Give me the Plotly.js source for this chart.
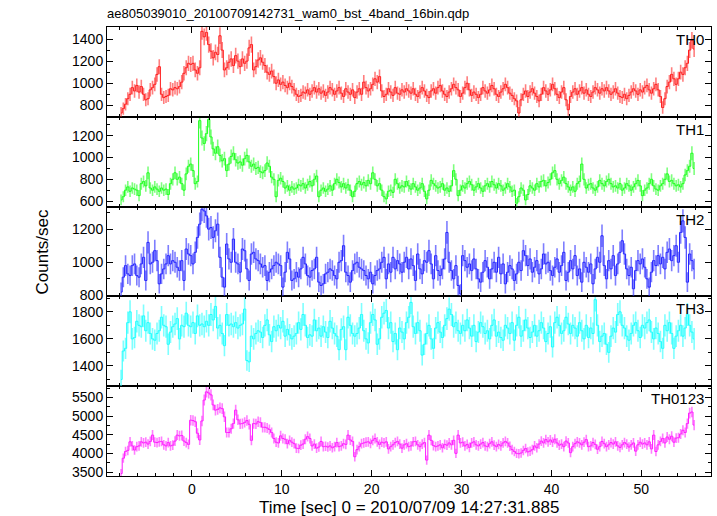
<!DOCTYPE html>
<html><head><meta charset="utf-8">
<script src="https://cdn.plot.ly/plotly-3.0.1.min.js"></script>
<style>html,body{margin:0;padding:0;background:#fff}#chart{width:717px;height:516px}</style>
</head><body><div id="chart"></div>
<script>
// Time bins: 0.25 s bins starting at -8 s (bin centres)
const binStart = -8;
const binWidth = 0.25;

const th0 = [
730,770,810,860,900,960,930,980, 920,970,900,850,860,940,960,990,
1080,1150,900,870,880,890,950,940, 960,950,970,1010,1090,1140,1180,1170,
1180,1120,1090,1140,1470,1420,1460,1350, 1290,1230,1280,1260,1430,1300,1120,1140,
1190,1220,1160,1250,1200,1150,1220,1180, 1200,1320,1350,1120,1150,1210,1230,1190,
1160,1100,1080,1110,1060,1000,1030,990, 1010,980,960,1000,970,940,900,880,
890,920,910,940,900,930,960,920, 950,910,930,890,920,960,940,900,
930,960,910,880,950,920,900,940, 870,920,950,900,1010,960,930,950,
990,1040,1010,1060,930,880,900,950, 920,890,960,910,900,940,920,950,
930,910,950,900,880,920,960,930, 890,870,930,950,910,960,980,930,
900,880,920,950,990,960,940,880, 910,960,1000,940,890,920,900,870,
900,960,930,910,940,980,950,900, 880,920,950,990,960,910,890,860,
840,730,850,900,930,880,920,950, 910,880,840,900,960,930,900,940,
990,950,900,870,920,960,850,760, 880,920,950,900,930,960,910,940,
900,880,920,960,940,910,950,930, 960,930,900,920,950,910,880,870,
900,860,890,920,950,930,900,940, 920,960,980,940,910,950,990,940,
880,780,860,970,1010,1080,1040,990, 1040,1100,1080,1140,1180,1300,1390,1310
];
const th1 = [
610,640,700,730,690,720,710,700, 650,760,780,740,860,720,700,730,
710,690,720,700,710,660,760,800, 860,800,820,760,700,850,920,940,
880,760,780,1340,1180,1130,1220,1350, 1190,1080,1040,1100,1020,970,990,880,
940,1010,1040,980,950,960,930,990, 1020,960,920,940,900,910,870,860,
880,950,920,820,800,640,790,810, 780,720,740,700,730,710,720,750,
740,760,720,750,780,740,800,830, 640,700,720,690,710,740,700,760,
800,770,730,760,720,750,700,640, 690,760,780,750,770,740,790,760,
860,800,740,760,700,640,620,690, 700,680,800,760,720,740,730,780,
740,710,760,730,700,720,760,690, 620,700,790,760,740,720,730,760,
700,720,690,740,880,800,650,700, 740,720,760,780,750,700,730,760,
720,690,740,760,730,780,750,720, 760,740,700,720,760,730,690,700,
580,640,720,700,610,660,740,720, 700,760,730,780,790,740,770,800,
860,880,800,760,790,820,760,730, 700,730,690,760,780,940,800,720,
750,760,720,700,730,790,760,740, 780,800,760,730,740,720,760,700,
720,760,740,700,730,760,790,740, 650,700,720,760,800,740,710,700,
740,760,800,850,780,790,760,740, 750,730,760,840,880,920,1040,900
];
const th2 = [
820,910,980,930,920,980,990,920, 910,990,1030,890,1120,990,1000,1070,
1010,870,930,960,990,1040,990,1010, 1000,970,950,1010,890,1080,1050,1040,
990,1060,1150,1230,1320,1310,1280,1200, 1210,1150,1190,1230,1030,910,850,1110,
1020,1000,1140,1000,990,940,1080,1070, 960,890,1050,1060,1020,1010,990,970,
980,890,940,960,980,1000,990,980, 850,940,1060,1020,890,900,940,910,
960,1030,990,920,910,950,960,1030, 880,860,870,930,940,960,950,920,
900,1000,1010,1100,940,920,880,950, 990,1000,970,960,950,920,900,940,
870,920,950,960,1000,1030,900,990, 940,1030,960,1010,990,940,1000,1030,
960,1020,980,890,1050,960,930,1010, 1000,1070,990,900,1040,950,920,960,
1020,1180,1000,950,900,980,860,810, 1040,1010,970,990,950,1020,960,900,
880,940,1010,970,900,960,1000,940, 1030,930,990,870,940,980,960,890,
930,1000,950,1070,1040,980,1020,940, 970,1010,930,960,1050,990,1000,950,
920,970,1020,940,980,1060,890,940, 1010,960,1040,920,960,880,1000,970,
940,990,870,960,1030,1000,1160,980, 900,1010,960,1040,920,990,1060,1130,
1050,960,920,970,840,950,1010,990, 1020,970,900,850,940,1010,980,1040,
990,1030,960,1060,1080,1010,1040,1100, 1000,1180,1250,1150,880,1050,1010,960
];
const th3 = [
1300,1510,1530,1720,1800,1600,1610,1730, 1700,1690,1770,1660,1720,1640,1600,1590,
1640,1660,1760,1700,1690,1560,1650,1690, 1710,1750,1600,1700,1690,1790,1700,1690,
1720,1640,1770,1700,1710,1690,1730,1700, 1780,1740,1840,1680,1700,1640,1550,1780,
1700,1710,1690,1720,1680,1700,1710,1820, 1440,1430,1620,1600,1640,1660,1650,1610,
1700,1740,1630,1580,1690,1660,1700,1680, 1730,1620,1670,1630,1600,1620,1640,1720,
1670,1780,1700,1610,1630,1620,1740,1660, 1680,1620,1690,1650,1610,1730,1680,1640,
1620,1520,1670,1690,1520,1760,1700,1640, 1620,1640,1680,1780,1660,1600,1570,1720,
1780,1740,1560,1600,1760,1790,1810,1680, 1720,1580,1640,1520,1680,1650,1600,1720,
1760,1870,1690,1640,1720,1660,1480,1560, 1640,1700,1600,1530,1680,1720,1650,1610,
1700,1750,1820,1780,1690,1720,1660,1640, 1700,1660,1740,1680,1620,1700,1580,1650,
1720,1690,1640,1660,1600,1700,1740,1620, 1650,1610,1590,1700,1680,1640,1720,1590,
1700,1760,1620,1660,1740,1680,1610,1650, 1700,1620,1660,1720,1680,1580,1640,1690,
1540,1720,1760,1700,1640,1660,1760,1710, 1640,1700,1680,1620,1720,1660,1600,1700,
1610,1680,1640,1890,1700,1580,1620,1640, 1560,1500,1620,1680,1650,1780,1800,1700,
1680,1620,1590,1640,1700,1720,1660,1610, 1700,1680,1720,1740,1650,1600,1680,1640,
1580,1530,1700,1660,1720,1640,1530,1620, 1660,1700,1620,1680,1780,1700,1650,1600
];
const th0123 = [
3460,3870,4050,4080,4310,4200,4090,4180, 4200,4310,4280,4300,4250,4320,4490,4300,
4290,4310,4320,4230,4200,4290,4200,4220, 4330,4490,4470,4480,4330,4290,4240,4890,
4880,4850,4540,4360,4870,5430,5650,5620, 5570,5300,5160,5180,5220,5200,4980,4560,
4560,4660,4800,5160,4900,4790,4800,4830, 4880,4780,4350,4800,4790,4850,4830,4700,
4700,4680,4640,4560,4400,4300,4280,4470, 4400,4380,4260,4350,4300,4260,4140,4130,
4220,4250,4380,4450,4400,4200,4250,4140, 4170,4320,4180,4190,4170,4200,4150,4180,
4290,4180,4200,4260,4240,4490,4360,4320, 3910,4100,4180,4260,4280,4300,4310,4270,
4350,4400,4310,4240,4300,4280,4310,4120, 4180,4230,4290,4320,4250,4140,4230,4260,
4180,4200,4310,4320,4230,4180,4250,4290, 3820,4490,4350,4210,4180,4200,4230,4150,
4240,4220,4280,4230,4350,4000,4490,4280, 4300,4200,4240,4160,4280,4310,4230,4200,
4250,4290,4200,4180,4260,4310,4220,4180, 4240,4200,4280,4320,4280,4190,4100,4050,
4000,3990,4010,4080,4130,4040,4060,4100, 4200,4150,4250,4330,4280,4370,4310,4360,
4300,4380,4280,4220,4250,4180,4330,4280, 4020,4180,4260,4310,4280,4230,4300,4370,
4180,4200,4290,4240,4110,4180,4320,4260, 4180,4230,4290,4250,4310,4200,4160,4230,
4290,4250,4170,4230,4280,4060,4230,4300, 4250,4280,4230,4310,4120,4490,4050,4230,
4320,4400,4280,4440,4380,4460,4300,4410, 4420,4520,4620,4560,4800,5080,5110,4760
];

const bandNames = ["TH0", "TH1", "TH2", "TH3", "TH0123"];
const bandSeries = [th0, th1, th2, th3, th0123];
const bandColors = ["#ff1a1a", "#1aff1a", "#2222ff", "#1affff", "#ff1aff"];
const barColors = ["rgba(255,40,40,0.6)", "rgba(40,255,40,0.6)", "rgba(40,40,255,0.6)", "rgba(40,255,255,0.6)", "rgba(255,40,255,0.6)"];
const yRanges = [[696,1509],[549,1375],[794,1336],[1250,1914],[3393,5802]];
const yDticks = [200, 200, 200, 200, 500];
const yMinor = [100, 100, 100, 100, 250];

const time = th0.map((_, i) => binStart + binWidth * (i + 0.5));
const FONT = "Liberation Sans, Arial, Helvetica, sans-serif";

const traces = [];
const layout = {
  width: 717, height: 516,
  margin: {l: 107, r: 6, t: 27, b: 40},
  paper_bgcolor: "#fff", plot_bgcolor: "#fff",
  showlegend: false,
  font: {family: FONT, size: 14, color: "#000"},
  title: {text: "ae805039010_20100709142731_wam0_bst_4band_16bin.qdp",
          x: 107/717, xref: "container", xanchor: "left",
          y: 1 - 13/516, yref: "container", yanchor: "middle",
          font: {family: FONT, size: 13, color: "#000"}},
  annotations: []
};

// panel k: 0 = top (TH0) ... 4 = bottom (TH0123); axis index n = 5 - k
for (let k = 0; k < 5; k++) {
  const n = 5 - k;
  const ax = n === 1 ? "" : String(n);
  const vals = bandSeries[k];
  traces.push({
    type: "scatter", mode: "lines",
    x: time, y: vals,
    xaxis: "x" + ax, yaxis: "y" + ax,
    line: {shape: "hvh", width: 1, color: bandColors[k]},
    error_y: {type: "data", array: vals.map(v => Math.sqrt(v / binWidth)), width: 0, thickness: 1.6, color: barColors[k]},
    hoverinfo: "skip"
  });
  const d0 = (n - 1) * 0.2, d1 = n * 0.2;
  layout["xaxis" + ax] = {
    domain: [0, 1], anchor: "y" + ax,
    range: [-9.44, 57.75],
    matches: n === 1 ? undefined : "x",
    tick0: 0, dtick: 10, ticks: "inside", ticklen: 6, tickcolor: "#000", tickwidth: 1,
    minor: {ticks: "inside", dtick: 2, tick0: 0, ticklen: 3, tickcolor: "#000", showgrid: false},
    showticklabels: n === 1,
    tickfont: {family: FONT, size: 14, color: "#000"},
    showline: true, linecolor: "#000", linewidth: 1, mirror: "allticks",
    showgrid: false, zeroline: false
  };
  layout["yaxis" + ax] = {
    domain: [d0, d1], anchor: "x" + ax,
    range: yRanges[k],
    tick0: 0, dtick: yDticks[k], ticks: "inside", ticklen: 6, tickcolor: "#000", tickwidth: 1,
    minor: {ticks: "inside", dtick: yMinor[k], tick0: 0, ticklen: 3, tickcolor: "#000", showgrid: false},
    tickfont: {family: FONT, size: 14, color: "#000"},
    showline: true, linecolor: "#000", linewidth: 1, mirror: "allticks",
    showgrid: false, zeroline: false
  };
  layout.annotations.push({
    text: bandNames[k], showarrow: false,
    xref: "paper", x: 1, xanchor: "right", xshift: -5,
    yref: "y" + ax + " domain", y: 1, yanchor: "top", yshift: -2,
    font: {family: FONT, size: 15, color: "#000"}
  });
}

layout.annotations.push({
  text: "Counts/sec", showarrow: false, textangle: -90,
  xref: "paper", x: 0, xanchor: "center", xshift: -65,
  yref: "paper", y: 0.5, yanchor: "middle",
  font: {family: FONT, size: 17, color: "#000"}
});
layout.annotations.push({
  text: "Time [sec] 0 = 2010/07/09 14:27:31.885", showarrow: false,
  xref: "paper", x: 0.5, xanchor: "center",
  yref: "paper", y: 0, yanchor: "middle", yshift: -31,
  font: {family: FONT, size: 17, color: "#000"}
});

Plotly.newPlot("chart", traces, layout, {displayModeBar: false, staticPlot: true});
</script>
</body></html>
